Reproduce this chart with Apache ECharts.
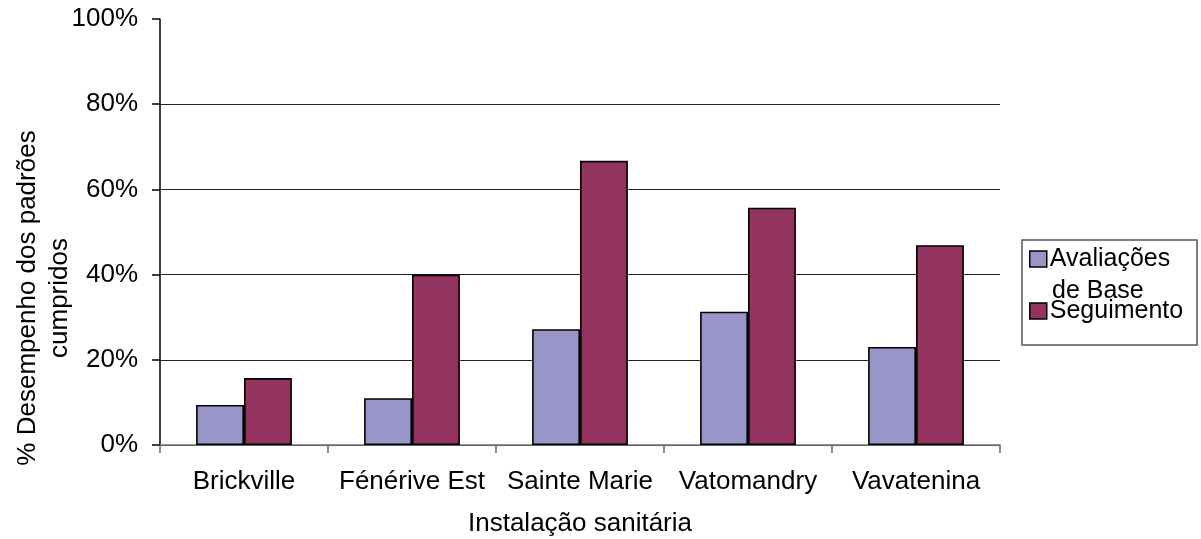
<!DOCTYPE html>
<html>
<head>
<meta charset="utf-8">
<script src="https://cdn.jsdelivr.net/npm/echarts@6/dist/echarts.min.js"></script>
<style>
  html, body { margin: 0; padding: 0; background: #fff; }
  #chart { width: 1201px; height: 539px; }
</style>
</head>
<body>
<div id="chart"></div>
<script>
// Health facilities and the share of standards met at baseline vs follow-up
const categories = ['Brickville', 'Fénérive Est', 'Sainte Marie', 'Vatomandry', 'Vavatenina'];
const baseline = [9.4, 11.0, 27.2, 31.3, 23.0];
const followUp = [15.7, 40.0, 66.7, 55.7, 46.9];
const yTicks = [0, 20, 40, 60, 80, 100];
const seriesNames = ['Avaliações de Base', 'Seguimento'];
const yTitle = '% Desempenho dos padrões\ncumpridos';
const xTitle = 'Instalação sanitária';

const FONT = '"Liberation Sans", Arial, sans-serif';
const FS = 26;
const chart = echarts.init(document.getElementById('chart'), null, { renderer: 'canvas' });

// gridlines at every tick except the top one (100%), which only gets its tick mark
const gridColors = yTicks.map(function (v, i) { return i === yTicks.length - 1 ? 'rgba(0,0,0,0)' : '#222'; });

chart.setOption({
  animation: false,
  backgroundColor: '#ffffff',
  textStyle: { fontFamily: FONT, color: '#000' },
  grid: { left: 160, right: 201, top: 19, bottom: 94, containLabel: false, outerBoundsMode: 'none' },
  legend: {
    orient: 'vertical',
    left: 1029,
    top: 246,
    padding: 0,
    itemGap: 26,
    itemWidth: 17,
    itemHeight: 16,
    icon: 'rect',
    selectedMode: false,
    data: seriesNames,
    itemStyle: { borderColor: '#000', borderWidth: 1.5 },
    formatter: function (name) { return name === seriesNames[0] ? 'Avaliações' : name; },
    textStyle: { fontFamily: FONT, fontSize: 25, color: '#000', lineHeight: 26, padding: [0, 0, 0, -2] }
  },
  graphic: [
    {
      type: 'rect',
      shape: { x: 1022, y: 240, width: 175, height: 105 },
      style: { fill: 'none', stroke: '#555', lineWidth: 1.5 },
      z: 1
    },
    {
      type: 'text',
      left: 1052,
      top: 279,
      style: { text: 'de Base', fontFamily: FONT, fontSize: 25, fill: '#000' },
      z: 10
    },
    {
      type: 'text',
      x: 44,
      y: 298,
      rotation: Math.PI / 2,
      style: {
        text: yTitle,
        fontFamily: FONT,
        fontSize: FS,
        lineHeight: 32,
        fill: '#000',
        align: 'center',
        verticalAlign: 'middle'
      },
      z: 10
    }
  ],
  xAxis: {
    type: 'category',
    data: categories,
    name: xTitle,
    nameLocation: 'middle',
    nameGap: 66,
    nameTextStyle: { fontFamily: FONT, fontSize: FS, color: '#000' },
    axisLine: { lineStyle: { color: '#777', width: 1.5 } },
    axisTick: { show: true, alignWithLabel: false, length: 8, lineStyle: { color: '#666', width: 1.5 } },
    axisLabel: { fontFamily: FONT, fontSize: FS, color: '#000', margin: 24, interval: 0 }
  },
  yAxis: {
    type: 'value',
    min: yTicks[0],
    max: yTicks[yTicks.length - 1],
    interval: yTicks[1] - yTicks[0],
    axisLine: { show: true, lineStyle: { color: '#000', width: 1.5 } },
    axisTick: { show: true, length: 8, lineStyle: { color: '#000', width: 1.5 } },
    axisLabel: { fontFamily: FONT, fontSize: FS, color: '#000', margin: 22, formatter: '{value}%' },
    splitLine: { show: true, lineStyle: { color: gridColors, width: 1.2 } }
  },
  series: [
    {
      name: seriesNames[0],
      type: 'bar',
      data: baseline,
      barGap: '0%',
      barCategoryGap: '43%',
      itemStyle: { color: '#9896c8', borderColor: '#000', borderWidth: 1.6 }
    },
    {
      name: seriesNames[1],
      type: 'bar',
      data: followUp,
      barGap: '0%',
      barCategoryGap: '43%',
      itemStyle: { color: '#933360', borderColor: '#000', borderWidth: 1.6 }
    }
  ]
});
</script>
</body>
</html>
